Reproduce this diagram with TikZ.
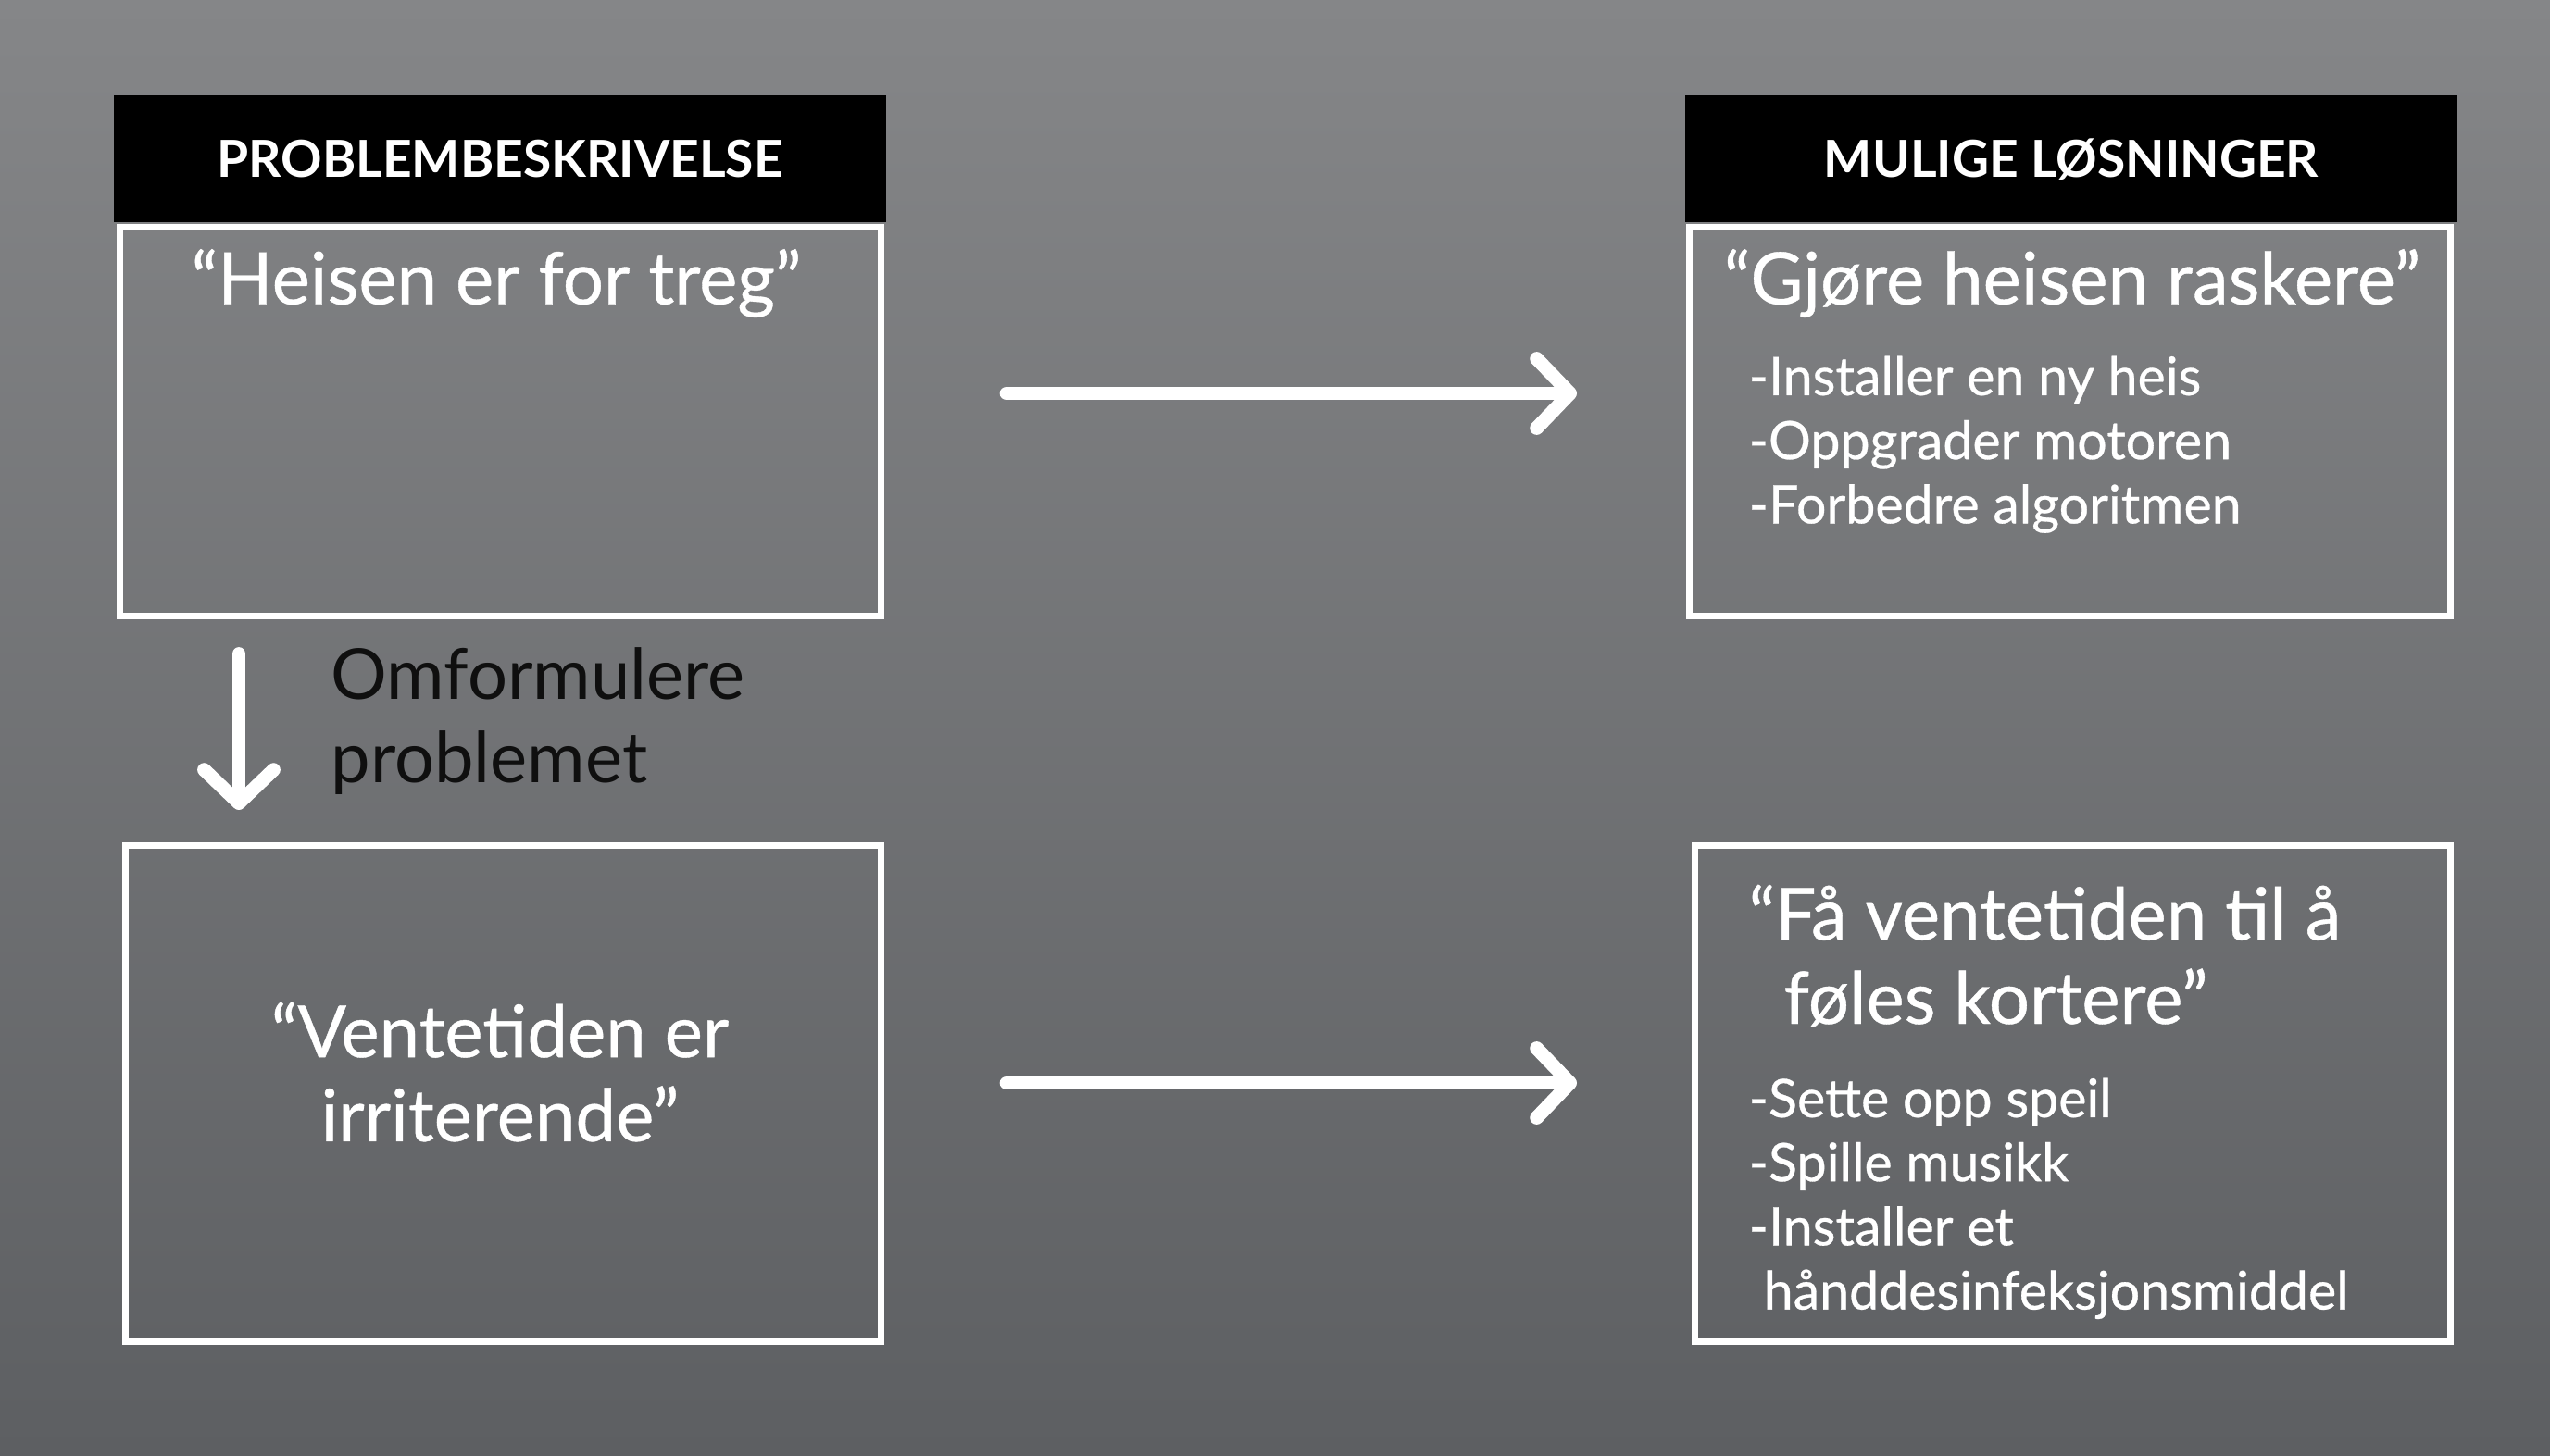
\documentclass[tikz,border=0pt]{standalone}
\usepackage{fontspec}
\setmainfont{Lato}
\newfontfamily\medfont{Lato}[FakeBold=0.5]
\usetikzlibrary{arrows.meta,positioning}
\definecolor{bgtop}{RGB}{133,134,136}
\definecolor{bgbot}{RGB}{93,95,98}
\definecolor{ink}{RGB}{15,15,15}
\tikzset{
  header/.style={fill=black, text=white, minimum width=8.34cm, minimum height=1.37cm,
    inner sep=0pt, font=\bfseries\fontsize{15.7}{18}\selectfont},
  frame/.style={draw=white, line width=2pt, minimum width=8.22cm, minimum height=4.2cm,
    inner sep=0pt},
  quote/.style={text=white, inner sep=0pt, font=\medfont\fontsize{22.2}{25.8}\selectfont},
  items/.style={text=white, inner sep=0pt, align=left, font=\medfont\fontsize{16.3}{19.7}\selectfont},
  flow/.style={draw=white, line width=4.2pt, line cap=round,
    -{Straight Barb[length=3.6mm,width=7.5mm,round]}},
}
\begin{document}
\begin{tikzpicture}
    \shade[top color=bgtop, bottom color=bgbot] (0,0) rectangle (27.54,15.72);
    \useasboundingbox (0,0) rectangle (27.54,15.72);
    % headers
    \node[header] (hdrL) at (5.40,14.00) {PROBLEMBESKRIVELSE};
    \node[header] (hdrR) at (22.37,14.00) {MULIGE LØSNINGER};
    % boxes
    \node[frame] (boxL1) at (5.405,11.165) {};
    \node[frame] (boxR1) at (22.355,11.165) {};
    \node[frame, minimum width=8.16cm, minimum height=5.36cm] (boxL2) at (5.435,3.905) {};
    \node[frame, minimum width=8.16cm, minimum height=5.36cm] (boxR2) at (22.385,3.905) {};
    % texts
    \node[quote] (qL1) at (5.36,12.66) {“Heisen er for treg”};
    \node[quote] (qR1) at (22.38,12.66) {“Gjøre heisen raskere”};
    \node[items, anchor=north west] (lstR1) at (18.88,11.88)
        {-Installer en ny heis\\-Oppgrader motoren\\-Forbedre algoritmen};
    \node[quote, align=center] (qL2) at (5.40,4.14) {“Ventetiden er\\irriterende”};
    \node[quote, align=left, anchor=north west] (qR2) at (18.88,6.17)
        {“Få ventetiden til å\\\hspace{0.38cm}føles kortere”};
    \node[items, anchor=north west] (lstR2) at (18.88,4.08)
        {-Sette opp speil\\-Spille musikk\\-Installer et\\\hspace{0.16cm}hånddesinfeksjonsmiddel};
    \node[quote, font=\fontsize{21.6}{25.8}\selectfont, text=ink, align=left, anchor=west]
        (omf) at (3.57,7.93) {Omformulere\\problemet};
    % arrows
    \draw[flow, shorten <=13.2mm, shorten >=11.8mm]
        ([yshift=3.05mm]boxL1.east) -- ([yshift=3.05mm]boxR1.west);
    \draw[flow, shorten <=13.2mm, shorten >=12.4mm]
        ([yshift=1.15mm]boxL2.east) -- ([yshift=1.15mm]boxR2.west);
    \draw[flow, shorten <=3.75mm, shorten >=3.5mm]
        ([xshift=13.2mm]boxL1.south west) -- ([xshift=13.2mm]boxL1.south west |- boxL2.north);
\end{tikzpicture}
\end{document}
